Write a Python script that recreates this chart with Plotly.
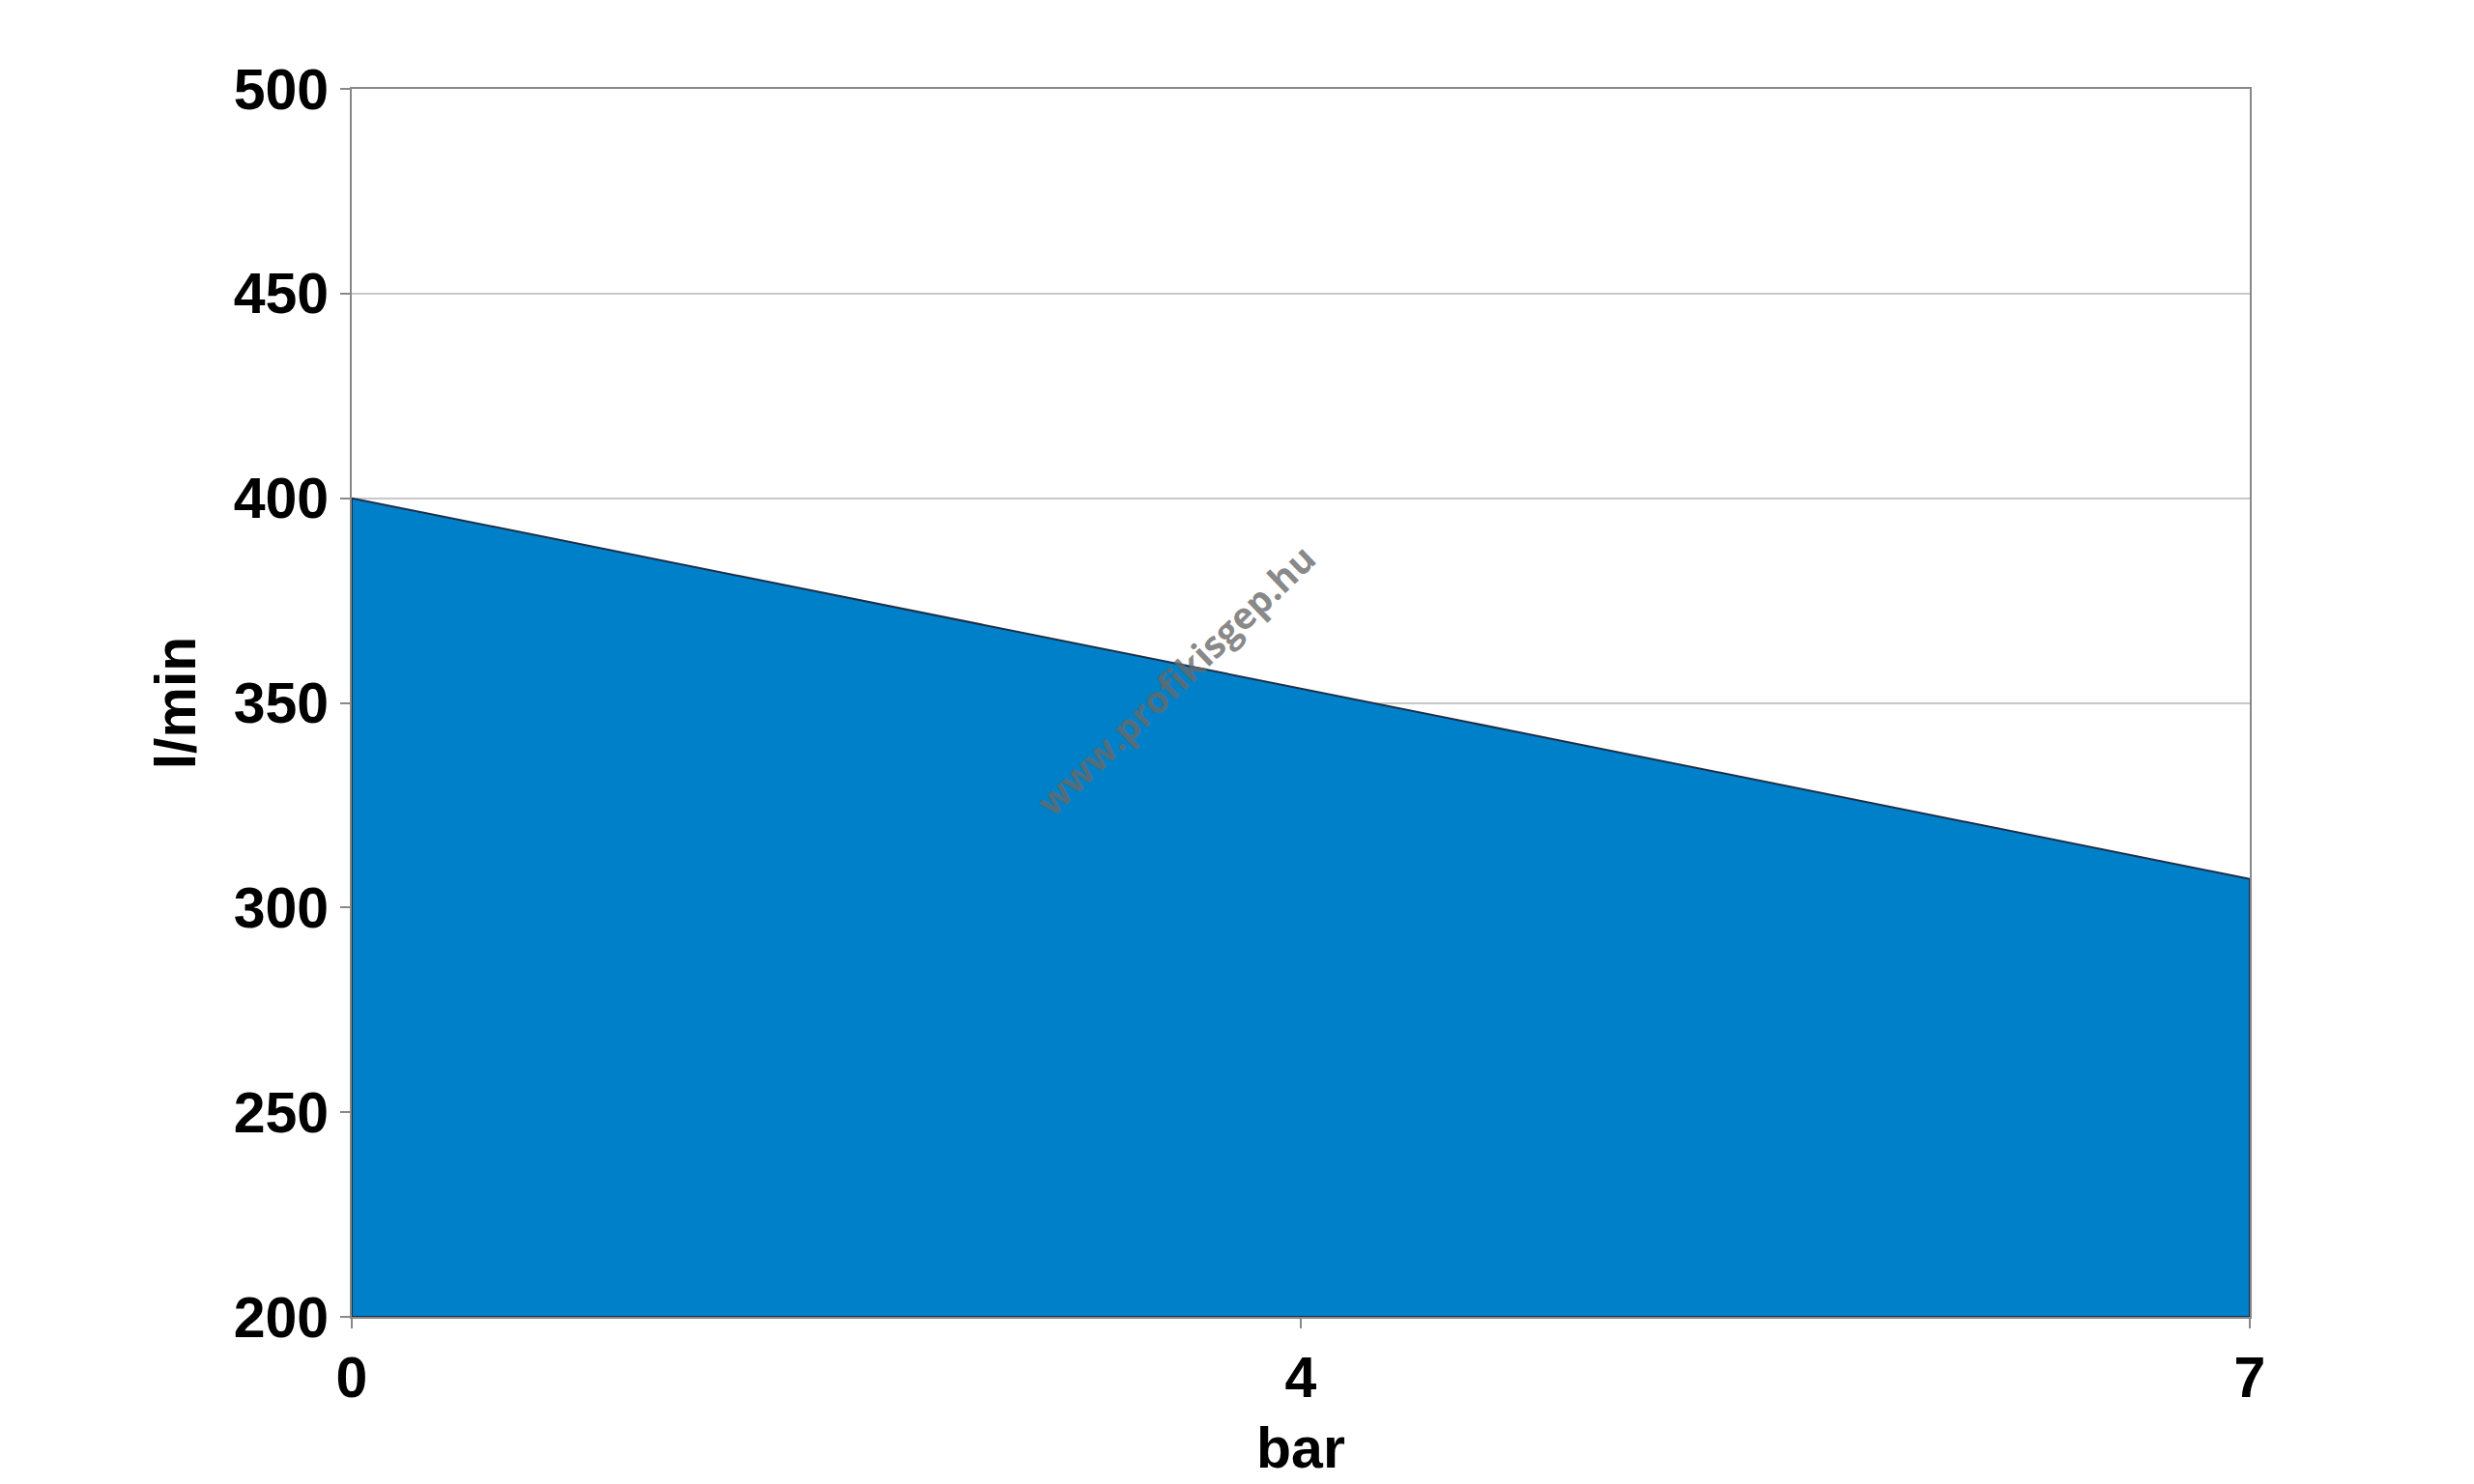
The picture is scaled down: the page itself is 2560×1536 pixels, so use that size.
import plotly.graph_objects as go

# Data
pressure_bar = ["0", "4", "7"]
flow_lpm = [400, 353.5, 307]
y_ticks = [200, 250, 300, 350, 400, 450, 500]
Y_MIN, Y_MAX = 200, 500

x_poly = pressure_bar + [pressure_bar[-1], pressure_bar[0], pressure_bar[0]]
y_poly = flow_lpm + [Y_MIN, Y_MIN, flow_lpm[0]]

FONT = "Liberation Sans, Arial, sans-serif"

fig = go.Figure()
fig.add_trace(go.Scatter(
    x=x_poly, y=y_poly, mode="lines", fill="toself",
    fillcolor="#0080C8", line=dict(color="#1b2f4a", width=2),
    hoverinfo="skip", showlegend=False,
))

fig.update_layout(
    width=2560, height=1536,
    margin=dict(l=356, r=240, t=84, b=181),
    paper_bgcolor="white", plot_bgcolor="white",
    font=dict(family=FONT, size=59, color="black"),
    xaxis=dict(
        type="category", categoryorder="array", categoryarray=pressure_bar,
        range=[0, len(pressure_bar) - 1],
        showgrid=False, showline=True, linecolor="#888888", linewidth=2, mirror=True,
        ticks="outside", ticklen=10, tickwidth=2, tickcolor="#888888",
        tickfont=dict(family=FONT, size=59, color="black", weight="bold"),
        title=dict(text="<b>bar</b>", font=dict(family=FONT, size=59, color="black"), standoff=20),
    ),
    yaxis=dict(
        range=[Y_MIN, Y_MAX], tickvals=y_ticks,
        showgrid=True, gridcolor="#c8c8c8", gridwidth=2,
        showline=True, linecolor="#888888", linewidth=2, mirror=True,
        ticks="outside", ticklen=10, tickwidth=2, tickcolor="#888888",
        tickfont=dict(family=FONT, size=59, color="black", weight="bold"),
        title=dict(text="<b>l/min</b>", font=dict(family=FONT, size=59, color="black"), standoff=20),
        zeroline=False,
    ),
)

fig.add_annotation(
    text="<b>www.profikisgep.hu</b>", x=0.434, y=0.519, xref="paper", yref="paper",
    showarrow=False, textangle=-44,
    font=dict(family="Open Sans, sans-serif", size=38, color="rgba(105,105,105,0.8)"),
)

fig.write_html("out.html")
